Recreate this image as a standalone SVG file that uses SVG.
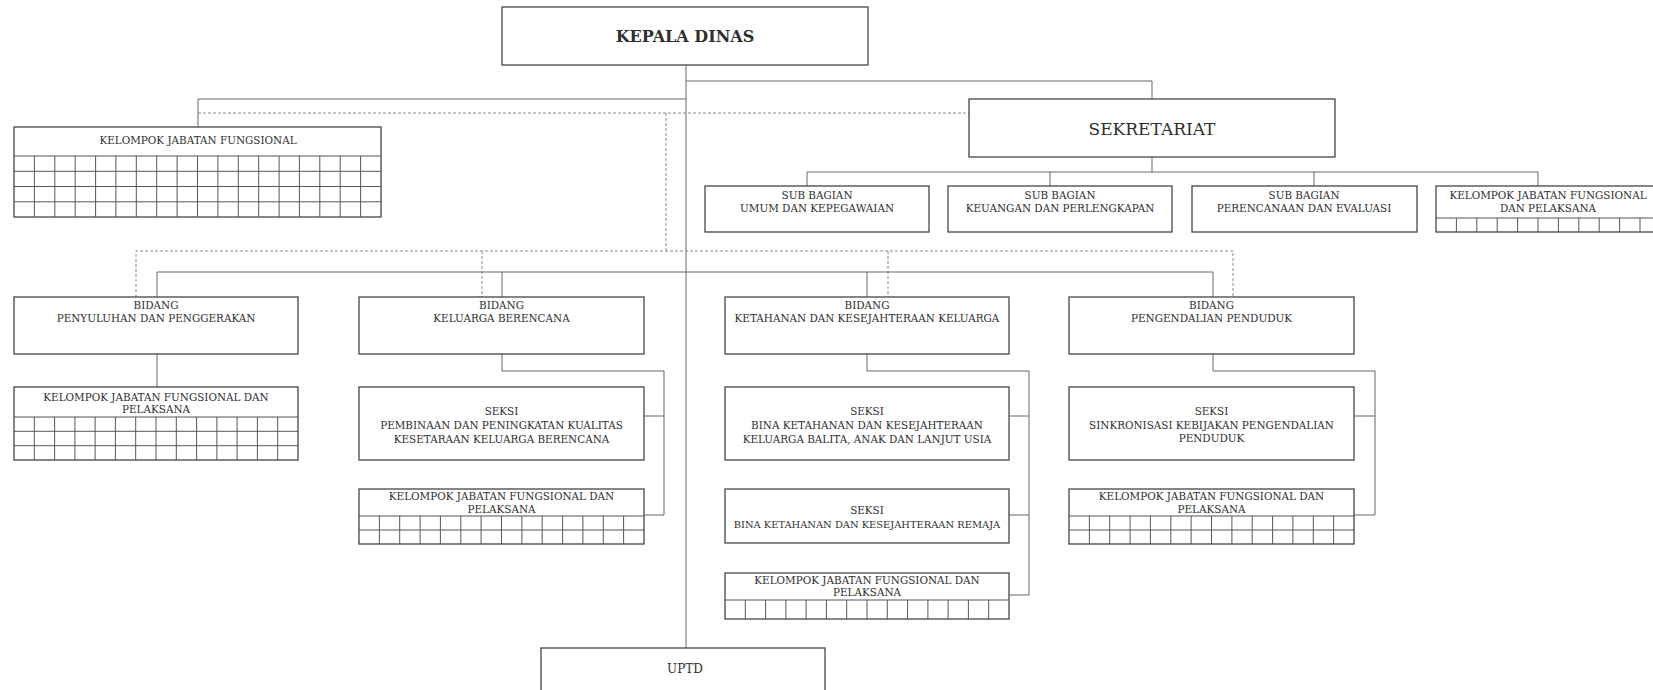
<svg xmlns="http://www.w3.org/2000/svg" width="1653" height="690" viewBox="0 0 1653 690">
<style>
.box{fill:#fff;stroke:#464646;stroke-width:1.3}
.grid{fill:none;stroke:#555;stroke-width:1}
.t{font-family:"DejaVu Serif","Liberation Serif",serif;font-size:10.4px;fill:#2e2e2e;text-anchor:middle}
.big{font-size:17px}
.b{font-weight:bold;font-size:16px}
.conn{fill:none;stroke:#666;stroke-width:1}
.dash{fill:none;stroke:#888;stroke-width:1;stroke-dasharray:3 2}
</style>
<rect width="1653" height="690" fill="#fff"/>
<g id="connectors">
<path class="conn" d="M686,65 V648"/>
<path class="conn" d="M686,81 H1152 V99"/>
<path class="conn" d="M686,99 H198 V127"/>
<path class="dash" d="M198,113 H969"/>
<path class="dash" d="M666,113 V251"/>
<path class="conn" d="M1152,157 V172"/>
<path class="conn" d="M807,186 V172 H1538 V186 M1050,172 V186 M1314,172 V186"/>
<path class="dash" d="M136,297 V251 H1233 V297 M482,251 V297 M888,251 V297"/>
<path class="conn" d="M157,297 V272 H1213 V297 M502,272 V297 M867,272 V297"/>
<path class="conn" d="M157,354 V387"/>
<path class="conn" d="M502,354 V371 H664 V515 H644 M644,416 H664"/>
<path class="conn" d="M867,354 V371 H1029 V595 H1009 M1009,416 H1029 M1009,515 H1029"/>
<path class="conn" d="M1213,354 V371 H1375 V515 H1354 M1354,416 H1375"/>
</g>
<g id="kepala">
<rect class="box" x="502" y="7" width="366" height="58"/>
<text class="t b" x="685" y="42">KEPALA DINAS</text>
</g>
<g id="kjf-top">
<rect class="box" x="14" y="127" width="367" height="90"/>
<path class="grid" d="M14,156 H381 M14,171.3 H381 M14,186.5 H381 M14,201.8 H381 M34.4,156 V217 M54.8,156 V217 M75.2,156 V217 M95.6,156 V217 M115.9,156 V217 M136.3,156 V217 M156.7,156 V217 M177.1,156 V217 M197.5,156 V217 M217.9,156 V217 M238.3,156 V217 M258.7,156 V217 M279.1,156 V217 M299.4,156 V217 M319.8,156 V217 M340.2,156 V217 M360.6,156 V217"/>
<text class="t" x="198" y="144">KELOMPOK JABATAN FUNGSIONAL</text>
</g>
<g id="sekretariat">
<rect class="box" x="969" y="99" width="366" height="58"/>
<text class="t big" x="1152" y="135">SEKRETARIAT</text>
</g>
<g id="sb-umum">
<rect class="box" x="705" y="186" width="224" height="46"/>
<text class="t" x="817" y="199">SUB BAGIAN</text>
<text class="t" x="817" y="212">UMUM DAN KEPEGAWAIAN</text>
</g>
<g id="sb-keuangan">
<rect class="box" x="948" y="186" width="224" height="46"/>
<text class="t" x="1060" y="199">SUB BAGIAN</text>
<text class="t" x="1060" y="212">KEUANGAN DAN PERLENGKAPAN</text>
</g>
<g id="sb-perencanaan">
<rect class="box" x="1192" y="186" width="225" height="46"/>
<text class="t" x="1304" y="199">SUB BAGIAN</text>
<text class="t" x="1304" y="212">PERENCANAAN DAN EVALUASI</text>
</g>
<g id="kjf-sekretariat">
<rect class="box" x="1436" y="186" width="224" height="46"/>
<path class="grid" d="M1436,218 H1660 M1456.4,218 V232 M1476.8,218 V232 M1497.2,218 V232 M1517.6,218 V232 M1538,218 V232 M1558.4,218 V232 M1578.8,218 V232 M1599.2,218 V232 M1619.6,218 V232 M1640,218 V232"/>
<text class="t" x="1548" y="199">KELOMPOK JABATAN FUNGSIONAL</text>
<text class="t" x="1548" y="212">DAN PELAKSANA</text>
</g>
<g id="bidang-penyuluhan">
<rect class="box" x="14" y="297" width="284" height="57"/>
<text class="t" x="156" y="309">BIDANG</text>
<text class="t" x="156" y="322">PENYULUHAN DAN PENGGERAKAN</text>
</g>
<g id="kjf-penyuluhan">
<rect class="box" x="14" y="387" width="284" height="73"/>
<path class="grid" d="M14,417 H298 M14,431.3 H298 M14,445.7 H298 M34.3,417 V460 M54.6,417 V460 M74.9,417 V460 M95.1,417 V460 M115.4,417 V460 M135.7,417 V460 M156,417 V460 M176.3,417 V460 M196.6,417 V460 M216.9,417 V460 M237.1,417 V460 M257.4,417 V460 M277.7,417 V460"/>
<text class="t" x="156" y="401">KELOMPOK JABATAN FUNGSIONAL DAN</text>
<text class="t" x="156" y="413">PELAKSANA</text>
</g>
<g id="bidang-kb">
<rect class="box" x="359" y="297" width="285" height="57"/>
<text class="t" x="501.5" y="309">BIDANG</text>
<text class="t" x="501.5" y="322">KELUARGA BERENCANA</text>
</g>
<g id="seksi-kb">
<rect class="box" x="359" y="387" width="285" height="73"/>
<text class="t" x="501.5" y="415">SEKSI</text>
<text class="t" x="501.5" y="429">PEMBINAAN DAN PENINGKATAN KUALITAS</text>
<text class="t" x="501.5" y="443">KESETARAAN KELUARGA BERENCANA</text>
</g>
<g id="kjf-kb">
<rect class="box" x="359" y="489" width="285" height="55"/>
<path class="grid" d="M359,516 H644 M359,530 H644 M379.4,516 V544 M399.7,516 V544 M420.1,516 V544 M440.4,516 V544 M460.8,516 V544 M481.1,516 V544 M501.5,516 V544 M521.9,516 V544 M542.2,516 V544 M562.6,516 V544 M582.9,516 V544 M603.3,516 V544 M623.6,516 V544"/>
<text class="t" x="501.5" y="500">KELOMPOK JABATAN FUNGSIONAL DAN</text>
<text class="t" x="501.5" y="513">PELAKSANA</text>
</g>
<g id="bidang-kesejahteraan">
<rect class="box" x="725" y="297" width="284" height="57"/>
<text class="t" x="867" y="309">BIDANG</text>
<text class="t" x="867" y="322">KETAHANAN DAN KESEJAHTERAAN KELUARGA</text>
</g>
<g id="seksi-balita">
<rect class="box" x="725" y="387" width="284" height="73"/>
<text class="t" x="867" y="415">SEKSI</text>
<text class="t" x="867" y="429">BINA KETAHANAN DAN KESEJAHTERAAN</text>
<text class="t" x="867" y="443">KELUARGA BALITA, ANAK DAN LANJUT USIA</text>
</g>
<g id="seksi-remaja">
<rect class="box" x="725" y="489" width="284" height="54"/>
<text class="t" x="867" y="514">SEKSI</text>
<text class="t" x="867" y="527.5" style="font-size:9.9px">BINA KETAHANAN DAN KESEJAHTERAAN REMAJA</text>
</g>
<g id="kjf-kesejahteraan">
<rect class="box" x="725" y="573" width="284" height="46"/>
<path class="grid" d="M725,600 H1009 M745.3,600 V619 M765.6,600 V619 M785.9,600 V619 M806.1,600 V619 M826.4,600 V619 M846.7,600 V619 M867,600 V619 M887.3,600 V619 M907.6,600 V619 M927.9,600 V619 M948.1,600 V619 M968.4,600 V619 M988.7,600 V619"/>
<text class="t" x="867" y="584">KELOMPOK JABATAN FUNGSIONAL DAN</text>
<text class="t" x="867" y="596">PELAKSANA</text>
</g>
<g id="bidang-pengendalian">
<rect class="box" x="1069" y="297" width="285" height="57"/>
<text class="t" x="1211.5" y="309">BIDANG</text>
<text class="t" x="1211.5" y="322">PENGENDALIAN PENDUDUK</text>
</g>
<g id="seksi-sinkronisasi">
<rect class="box" x="1069" y="387" width="285" height="73"/>
<text class="t" x="1211.5" y="415">SEKSI</text>
<text class="t" x="1211.5" y="429">SINKRONISASI KEBIJAKAN PENGENDALIAN</text>
<text class="t" x="1211.5" y="442">PENDUDUK</text>
</g>
<g id="kjf-pengendalian">
<rect class="box" x="1069" y="489" width="285" height="55"/>
<path class="grid" d="M1069,516 H1354 M1069,530 H1354 M1089.4,516 V544 M1109.7,516 V544 M1130.1,516 V544 M1150.4,516 V544 M1170.8,516 V544 M1191.1,516 V544 M1211.5,516 V544 M1231.9,516 V544 M1252.2,516 V544 M1272.6,516 V544 M1292.9,516 V544 M1313.3,516 V544 M1333.6,516 V544"/>
<text class="t" x="1211.5" y="500">KELOMPOK JABATAN FUNGSIONAL DAN</text>
<text class="t" x="1211.5" y="513">PELAKSANA</text>
</g>
<g id="uptd">
<rect class="box" x="541" y="648" width="284" height="46"/>
<text class="t" x="685" y="673" style="font-size:12px">UPTD</text>
</g>
</svg>
